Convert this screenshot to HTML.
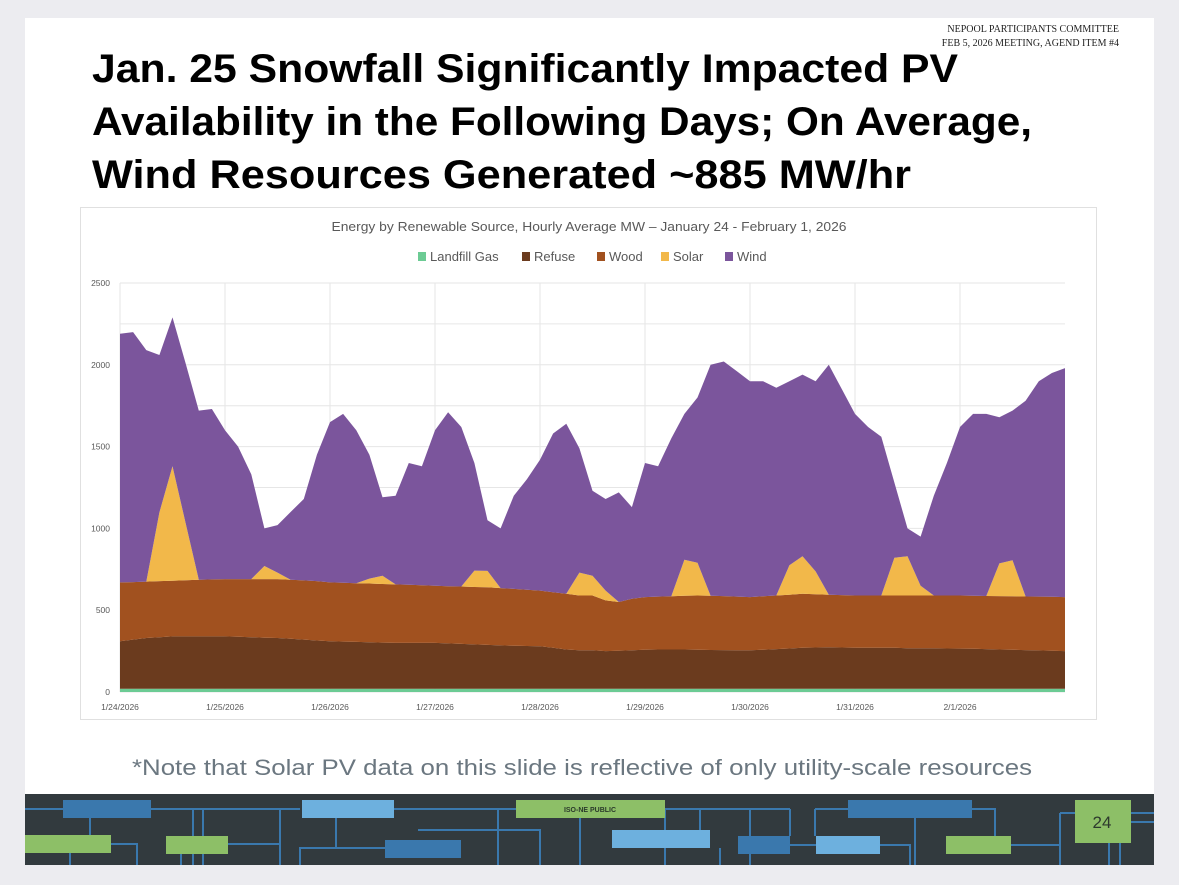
<!DOCTYPE html>
<html><head><meta charset="utf-8"><style>
html,body{margin:0;padding:0;background:#ececf0;}
svg{display:block;}
</style></head><body>
<svg id="s" width="1179" height="885" viewBox="0 0 1179 885" xmlns="http://www.w3.org/2000/svg" font-family="Liberation Sans, sans-serif">
<rect x="0" y="0" width="1179" height="885" fill="#ececf0"/>
<rect x="25" y="18" width="1129" height="847" fill="#ffffff"/>
<text x="1119" y="32" text-anchor="end" font-family="Liberation Serif, serif" font-size="10" fill="#222">NEPOOL PARTICIPANTS COMMITTEE</text>
<text x="1119" y="46" text-anchor="end" font-family="Liberation Serif, serif" font-size="10" fill="#222">FEB 5, 2026 MEETING, AGEND ITEM #4</text>
<g font-weight="bold" font-size="40" fill="#000">
<text x="92" y="82" textLength="866" lengthAdjust="spacingAndGlyphs">Jan. 25 Snowfall Significantly Impacted PV</text>
<text x="92" y="135" textLength="940" lengthAdjust="spacingAndGlyphs">Availability in the Following Days; On Average,</text>
<text x="92" y="188" textLength="819" lengthAdjust="spacingAndGlyphs">Wind Resources Generated ~885 MW/hr</text>
</g>
<rect x="80.5" y="207.5" width="1016" height="512" fill="#fff" stroke="#e0e0e0"/>
<text x="589" y="231" text-anchor="middle" font-size="13" fill="#595959" textLength="515" lengthAdjust="spacingAndGlyphs">Energy by Renewable Source, Hourly Average MW – January 24 - February 1, 2026</text>
<g id="legend" font-size="13" fill="#595959"></g>
<g id="grid"></g>
<g id="areas"></g>
<g id="yax" font-size="8.5" fill="#595959"></g>
<g id="xax" font-size="8.5" fill="#595959"></g>
<text x="582" y="775" text-anchor="middle" font-size="22" fill="#6b7780" textLength="900" lengthAdjust="spacingAndGlyphs">*Note that Solar PV data on this slide is reflective of only utility-scale resources</text>
<g>
<rect x="25" y="794" width="1129" height="71" fill="#323a3e"/>
<g stroke="#3a78ad" stroke-width="2" fill="none">
<path d="M25 809H300M151 809H280V865M193 809V865M203 809V865M90 818V835M111 844H137V865M70 853V865M228 844H280M181 853V865"/>
<path d="M394 809H516M300 865V848H385M336 818V848M498 809V865M418 830H540V865M580 809V865"/>
<path d="M665 809H790M700 809V830M750 809V865M790 809V836M665 809V865M790 845H816M720 848V865M815 809H848M815 809V836M972 809H995V836M915 818V865M880 845H910V865M1011 845H1060V865M1060 813H1075M1060 813V865M1131 813H1154M1131 822H1154M1109 843V865M1120 843V865"/>
</g>
<rect x="63" y="800" width="88" height="18" fill="#3a78ad"/>
<rect x="25" y="835" width="86" height="18" fill="#8dbf67"/>
<rect x="166" y="836" width="62" height="18" fill="#8dbf67"/>
<rect x="302" y="800" width="92" height="18" fill="#6db0de"/>
<rect x="385" y="840" width="76" height="18" fill="#3a78ad"/>
<rect x="516" y="800" width="149" height="18" fill="#8dbf67"/>
<text x="590" y="812" text-anchor="middle" font-size="7" font-weight="bold" fill="#2b3a2b">ISO-NE PUBLIC</text>
<rect x="612" y="830" width="98" height="18" fill="#6db0de"/>
<rect x="738" y="836" width="52" height="18" fill="#3a78ad"/>
<rect x="816" y="836" width="64" height="18" fill="#6db0de"/>
<rect x="848" y="800" width="124" height="18" fill="#3a78ad"/>
<rect x="946" y="836" width="65" height="18" fill="#8dbf67"/>
<rect x="1075" y="800" width="56" height="43" fill="#8dbf67"/>
<text x="1102" y="828" text-anchor="middle" font-size="17" fill="#2d3a2d">24</text>
</g>
</svg>
<script>
const hoursStep = 3;
const dayLabels = ["1/24/2026","1/25/2026","1/26/2026","1/27/2026","1/28/2026","1/29/2026","1/30/2026","1/31/2026","2/1/2026"];
const yTicks = [0,500,1000,1500,2000,2500];
const seriesNames = ["Landfill Gas","Refuse","Wood","Solar","Wind"];
const landfill = [20,20,20,20,20,20,20,20,20,20,20,20,20,20,20,20,20,20,20,20,20,20,20,20,20,20,20,20,20,20,20,20,20,20,20,20,20,20,20,20,20,20,20,20,20,20,20,20,20,20,20,20,20,20,20,20,20,20,20,20,20,20,20,20,20,20,20,20,20,20,20,20,20];
const refuse = [290,300,310,315,320,320,320,320,320,318,315,312,310,305,300,295,290,288,286,284,282,280,280,280,280,277,274,271,268,265,263,261,260,250,240,235,235,230,232,235,238,240,240,240,238,237,236,235,235,238,242,246,250,252,253,252,250,250,250,250,248,248,247,246,245,244,242,240,238,236,234,232,230];
const wood = [360,352,345,343,340,343,346,348,350,352,355,358,360,361,362,363,360,360,359,359,358,358,355,352,350,350,351,351,352,350,347,344,340,340,340,335,335,310,298,315,322,323,325,328,332,331,330,328,325,327,328,329,330,325,322,320,320,320,320,320,322,322,323,324,325,324,325,326,327,328,329,330,330];
const solar = [0,0,0,420,700,350,0,0,0,0,0,80,40,0,0,0,0,0,0,30,50,0,0,0,0,0,0,100,100,0,0,0,0,0,0,140,120,60,0,0,0,0,0,220,200,0,0,0,0,0,0,180,230,140,0,0,0,0,0,230,240,60,0,0,0,0,0,200,220,0,0,0,0];
const wind = [1520,1528,1415,962,910,977,1034,1042,910,810,640,230,290,414,498,772,980,1032,935,757,480,542,745,728,950,1063,975,658,310,365,570,675,800,970,1040,760,520,560,670,560,820,797,965,892,1010,1412,1434,1377,1320,1315,1270,1125,1110,1163,1405,1258,1110,1030,970,460,170,300,610,810,1030,1112,1113,894,915,1196,1317,1368,1400];
const colors = ["#6ccb94","#6b3b1e","#a1511f","#f2b84a","#7b559c"];

const NS="http://www.w3.org/2000/svg";
const X0=120,X1=1065,Y0=692,Y1=283,HMAX=216,VMAX=2500;
const xs=h=>X0+(h/HMAX)*(X1-X0);
const ys=v=>Y0-(v/VMAX)*(Y0-Y1);
function mk(tag,attrs,parent){const e=document.createElementNS(NS,tag);for(const k in attrs)e.setAttribute(k,attrs[k]);parent.appendChild(e);return e;}
const grid=document.getElementById('grid');
for(let v=0;v<=VMAX;v+=250){const l=mk('line',{x1:X0,x2:X1,y1:ys(v),y2:ys(v),stroke:'#e6e6e6','stroke-width':1},grid);

}
dayLabels.forEach((d,i)=>{const l=mk('line',{x1:xs(i*24),x2:xs(i*24),y1:Y1,y2:Y0,stroke:'#e6e6e6','stroke-width':1},grid);

});
const series=[landfill,refuse,wood,solar,wind];
const areas=document.getElementById('areas');
let base=landfill.map(()=>0);
series.forEach((arr,si)=>{
  const top=arr.map((v,i)=>base[i]+v);
  let d='';
  top.forEach((v,i)=>{d+=(i?'L':'M')+xs(i*hoursStep).toFixed(1)+' '+ys(v).toFixed(1);});
  for(let i=base.length-1;i>=0;i--)d+='L'+xs(i*hoursStep).toFixed(1)+' '+ys(base[i]).toFixed(1);
  d+='Z';
  const p=mk('path',{d:d,fill:colors[si]},areas);
  
  
  base=top;
});
const yax=document.getElementById('yax');
yTicks.forEach(v=>{const t=mk('text',{x:110,y:ys(v)+3,'text-anchor':'end'},yax);t.textContent=v;

});
const xax=document.getElementById('xax');
dayLabels.forEach((d,i)=>{const t=mk('text',{x:xs(i*24),y:710,'text-anchor':'middle'},xax);t.textContent=d;

});
const legend=document.getElementById('legend');
const lx=[418,522,597,661,725];
seriesNames.forEach((n,i)=>{
  const r=mk('rect',{x:lx[i],y:252,width:8,height:9,fill:colors[i]},legend);
  
  
  const t=mk('text',{x:lx[i]+12,y:261},legend);t.textContent=n;
  
  
});
</script>
</body></html>
